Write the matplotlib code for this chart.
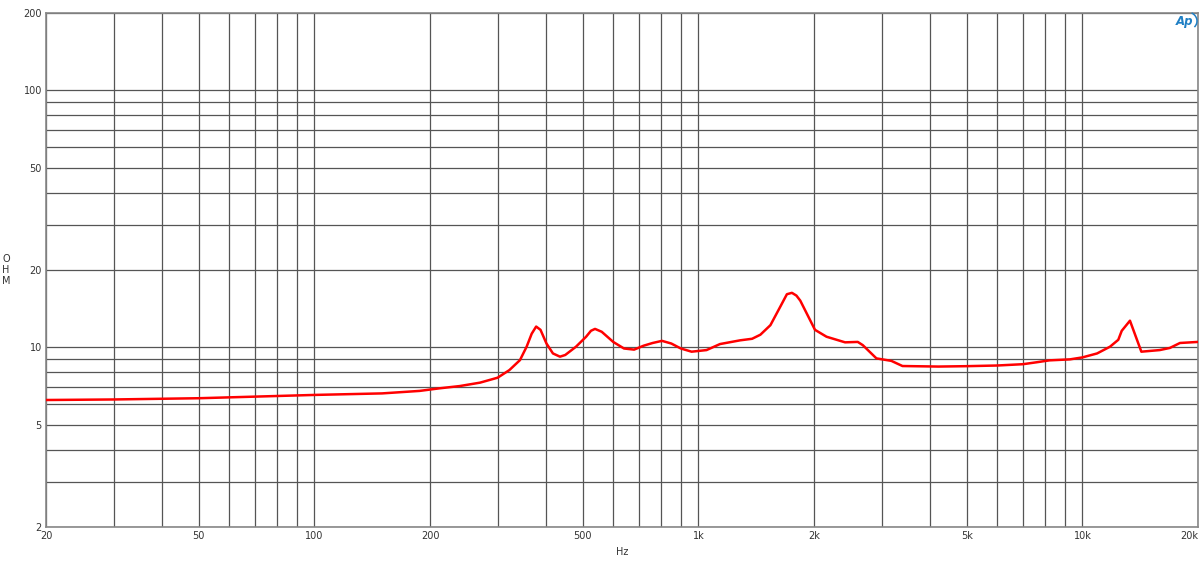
import matplotlib.pyplot as plt
from matplotlib.ticker import FixedLocator, NullFormatter
from matplotlib.patches import Arc

# impedance curve
freq = [20, 30, 50, 100, 150, 188, 212, 239, 270, 300, 322, 343, 357, 368, 378, 388,
        402, 418, 436, 450, 480, 510, 525, 538, 560, 600, 640, 680, 720, 760, 804, 850,
        900, 960, 1050, 1138, 1284, 1380, 1450, 1540, 1634, 1700, 1752, 1800, 1842,
        2012, 2156, 2410, 2600, 2680, 2908, 3180, 3400, 4220, 5000, 6000, 7000, 7600,
        8200, 9280, 10000, 10920, 11800, 12400, 12660, 13300, 14240, 15900, 16900,
        17950, 20000]
ohm = [6.24, 6.27, 6.34, 6.53, 6.62, 6.77, 6.93, 7.07, 7.29, 7.62, 8.16, 8.92, 10.06, 11.3,
       12.05, 11.7, 10.36, 9.47, 9.2, 9.34, 10.06, 11.0, 11.6, 11.8, 11.5, 10.5, 9.9, 9.8,
       10.15, 10.4, 10.6, 10.35, 9.9, 9.62, 9.76, 10.3, 10.65, 10.8, 11.2, 12.2, 14.4,
       16.1, 16.3, 15.9, 15.2, 11.7, 11.0, 10.46, 10.5, 10.2, 9.06, 8.86, 8.46, 8.42,
       8.45, 8.5, 8.6, 8.75, 8.9, 8.98, 9.14, 9.47, 10.06, 10.7, 11.6, 12.7, 9.62, 9.76,
       9.95, 10.4, 10.5]

x_ticks = [20, 50, 100, 200, 500, 1000, 2000, 5000, 10000, 20000]
x_labels = ["20", "50", "100", "200", "500", "1k", "2k", "5k", "10k", "20k"]
x_minor = [30, 40, 60, 70, 80, 90, 300, 400, 600, 700, 800, 900,
           3000, 4000, 6000, 7000, 8000, 9000]
y_ticks = [2, 5, 10, 20, 50, 100, 200]
y_labels = ["2", "5", "10", "20", "50", "100", "200"]
y_minor = [3, 4, 6, 7, 8, 9, 30, 40, 60, 70, 80, 90]

fig = plt.figure(figsize=(12, 5.67), dpi=100)
ax = fig.add_axes([46 / 1200, 40 / 567, 1152 / 1200, 514 / 567])

ax.plot(freq, ohm, color="red", lw=1.8, zorder=3, solid_joinstyle="round")

ax.set_xscale("log")
ax.set_yscale("log")
ax.set_xlim(20, 20000)
ax.set_ylim(2, 200)

ax.xaxis.set_major_locator(FixedLocator(x_ticks))
ax.xaxis.set_minor_locator(FixedLocator(x_minor))
ax.set_xticklabels(x_labels)
ax.xaxis.set_minor_formatter(NullFormatter())
ax.yaxis.set_major_locator(FixedLocator(y_ticks))
ax.yaxis.set_minor_locator(FixedLocator(y_minor))
ax.set_yticklabels(y_labels)
ax.yaxis.set_minor_formatter(NullFormatter())
ax.get_xticklabels()[-1].set_ha("right")

ax.grid(True, which="both", color="#555555", lw=0.9)
ax.tick_params(which="both", length=0, labelsize=7, colors="#333333", pad=3)
for s in ax.spines.values():
    s.set_color("#888888")
    s.set_linewidth(1.2)

ax.set_xlabel("Hz", fontsize=7, color="#333333", labelpad=4)
fig.text(6 / 1200, 1 - 270 / 567, "O\nH\nM", fontsize=7, color="#333333",
         ha="center", va="center", linespacing=1.1)

# AP logo
fig.text(1185 / 1200, 1 - 22 / 567, "Ap", fontsize=8.5, color="#1f7fc4",
         style="italic", fontweight="bold", ha="center", va="center")
logo = Arc((1187 / 1200, 1 - 21 / 567), 20 / 1200, 18 / 567, theta1=-60, theta2=75,
           transform=fig.transFigure, color="#1f7fc4", lw=1.1)
fig.add_artist(logo)

fig.savefig("out.png", dpi=100)
